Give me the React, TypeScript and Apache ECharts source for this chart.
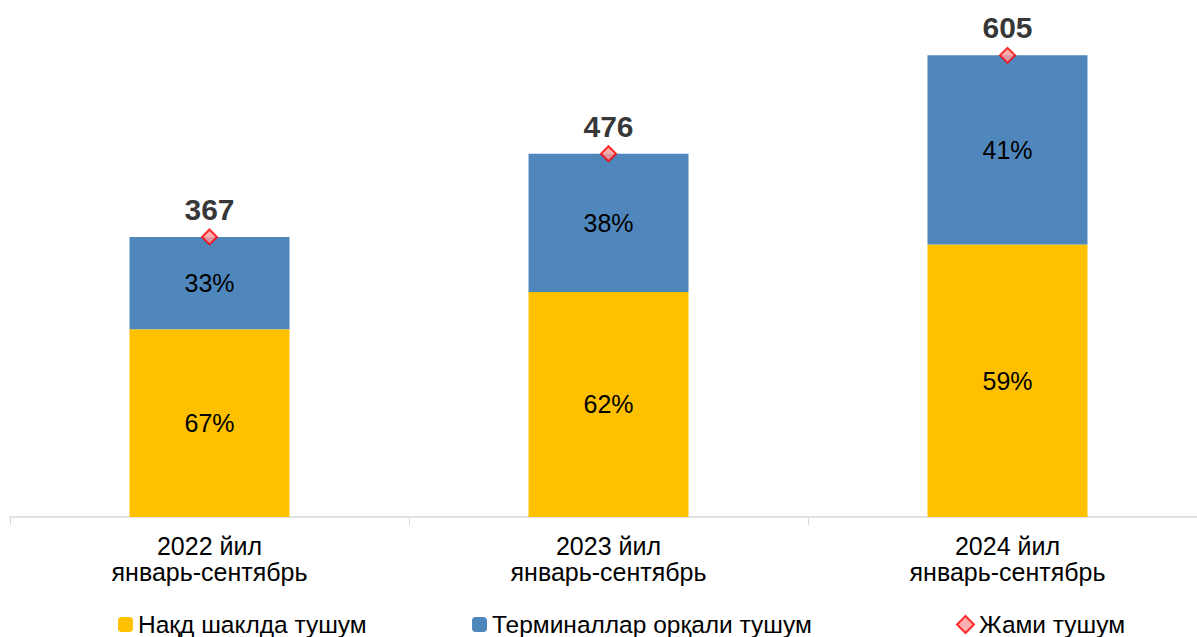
import React, { useEffect, useRef } from "react";
import * as echarts from "echarts";

const categories = ["2022 йил\nянварь-сентябрь", "2023 йил\nянварь-сентябрь", "2024 йил\nянварь-сентябрь"];
const cashValues = [246, 295, 357];
const terminalValues = [121, 181, 248];
const totalValues = [367, 476, 605];
const seriesNames = ["Нақд шаклда тушум", "Терминаллар орқали тушум", "Жами тушум"];

const FONT = "'Liberation Sans', Arial, sans-serif";

export default function App() {
  const ref = useRef<HTMLDivElement>(null);
  useEffect(() => {
    if (!ref.current) return;
    const chart = echarts.init(ref.current, null, { renderer: "svg" });
    const pct = (p: any) => Math.round((p.value / totalValues[p.dataIndex]) * 100) + "%";
    const legendText = { fontSize: 24.5, color: "#000", fontFamily: FONT, padding: [0, 0, 0, 0] };
    chart.setOption({
      animation: false,
      backgroundColor: "#ffffff",
      textStyle: { fontFamily: FONT },
      grid: { left: 10, right: 10, top: 21, bottom: 120, containLabel: false },
      legend: [
        { data: [seriesNames[0]], left: 118, top: 612, padding: 0, itemWidth: 15, itemHeight: 15, itemGap: 0, textStyle: legendText },
        { data: [seriesNames[1]], left: 472, top: 612, padding: 0, itemWidth: 15, itemHeight: 15, itemGap: 0, textStyle: legendText },
        { data: [seriesNames[2]], left: 956, top: 612, padding: 0, itemWidth: 17, itemHeight: 17, itemGap: 0, textStyle: legendText },
      ],
      xAxis: {
        type: "category",
        data: categories,
        axisLine: { lineStyle: { color: "#d9d9d9", width: 1.5 } },
        axisTick: { show: true, length: 8, lineStyle: { color: "#d9d9d9" } },
        axisLabel: { fontSize: 25, color: "#000", lineHeight: 26, margin: 16, fontFamily: FONT },
      },
      yAxis: { type: "value", min: 0, max: 650, show: false, splitLine: { show: false } },
      series: [
        {
          name: seriesNames[0],
          type: "bar",
          stack: "s",
          barWidth: 160,
          data: cashValues,
          itemStyle: { color: "#FFC000" },
          label: { show: true, position: "inside", formatter: pct, fontSize: 25, color: "#000", fontFamily: FONT },
        },
        {
          name: seriesNames[1],
          type: "bar",
          stack: "s",
          barWidth: 160,
          data: terminalValues,
          itemStyle: { color: "#4F87BD" },
          label: { show: true, position: "inside", formatter: pct, fontSize: 25, color: "#000", fontFamily: FONT },
        },
        {
          name: seriesNames[2],
          type: "scatter",
          data: totalValues,
          symbol: "diamond",
          symbolSize: 15,
          itemStyle: { color: "#FF9B9B", borderColor: "#FF0000", borderWidth: 2 },
          label: { show: true, position: "top", distance: 4, fontSize: 30, fontWeight: "bold", color: "#000000", fontFamily: FONT },
          z: 10,
        },
      ],
    });
    return () => chart.dispose();
  }, []);
  return <div ref={ref} style={{ position: "fixed", left: 0, top: 0, width: 1217, height: 637 }} />;
}
